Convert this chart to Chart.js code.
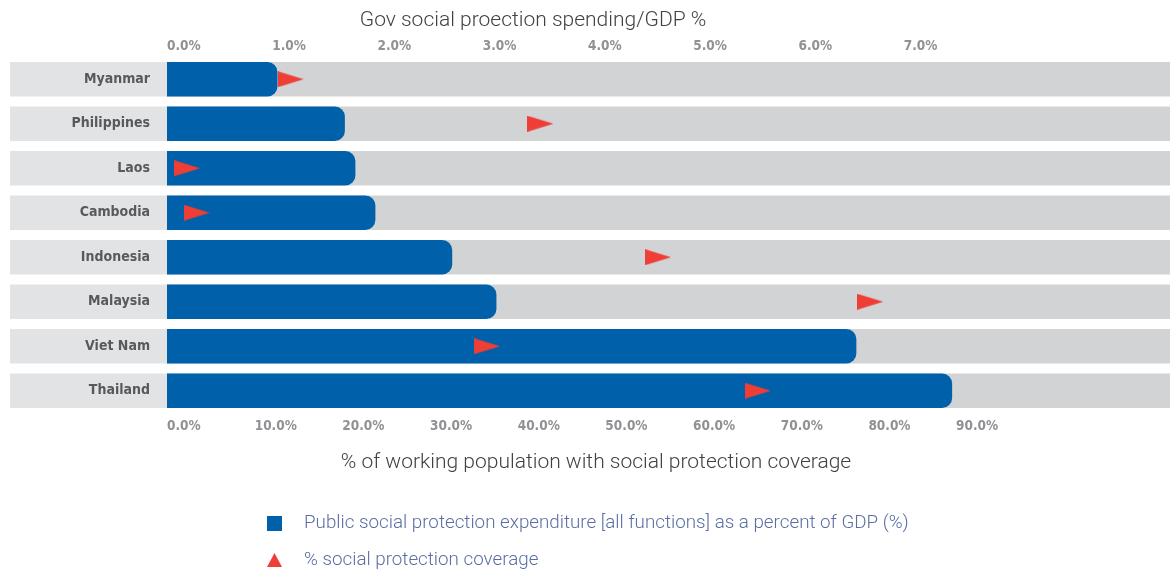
<!DOCTYPE html>
<html>
<head>
<meta charset="utf-8">
<script src="https://cdn.jsdelivr.net/npm/chart.js@4.4.1/dist/chart.umd.min.js"></script>
<style>
  html, body { margin: 0; padding: 0; background: #ffffff; }
</style>
</head>
<body>
<canvas id="protectionChart" width="1170" height="570"></canvas>
<script>
// Countries, top to bottom
const countries = ['Myanmar', 'Philippines', 'Laos', 'Cambodia', 'Indonesia', 'Malaysia', 'Viet Nam', 'Thailand'];

// Public social protection expenditure, % of GDP (blue bars, top axis)
const spendingGdp = [1.05, 1.69, 1.79, 1.98, 2.71, 3.13, 6.55, 7.46];

// % social protection coverage (red triangles, bottom axis)
const coverage = [14.1, 42.6, 2.3, 3.4, 56.0, 80.2, 36.5, 67.4];

// Tick labels shown on each axis
const spendTicks = [0, 1, 2, 3, 4, 5, 6, 7];
const coverageTicks = [0, 10, 20, 30, 40, 50, 60, 70, 80, 90];

// axis ranges (the grey track runs to the right edge)
const spendMax = 9.53;
const coverageMax = 114.4;

const condensed = "'Liberation Sans Narrow', 'DejaVu Sans Condensed', 'Roboto Condensed', Roboto, sans-serif";
const lightFont = "Roboto, 'Open Sans', sans-serif";

// right-pointing red triangle used as the point style
const tri = document.createElement('canvas');
tri.width = 26;
tri.height = 16;
const tctx = tri.getContext('2d');
tctx.fillStyle = '#ef3e36';
tctx.beginPath();
tctx.moveTo(0, 0);
tctx.lineTo(26, 8);
tctx.lineTo(0, 16);
tctx.closePath();
tctx.fill();

// light grey band behind the country labels
const labelBands = {
    id: 'labelBands',
    beforeDraw(chart) {
        const ctx = chart.ctx;
        const meta = chart.getDatasetMeta(2);
        ctx.save();
        ctx.fillStyle = '#e2e3e4';
        meta.data.forEach(bar => {
            ctx.fillRect(10, bar.y - bar.height / 2, chart.chartArea.left - 10, bar.height);
        });
        ctx.restore();
    }
};

// axis titles and the stacked legend at the bottom
const extras = {
    id: 'extras',
    afterDraw(chart) {
        const ctx = chart.ctx;
        ctx.save();
        ctx.fillStyle = '#414042';
        ctx.font = '300 21px ' + lightFont;
        ctx.textAlign = 'center';
        ctx.textBaseline = 'middle';
        ctx.fillText('Gov social proection spending/GDP %', 533, 21);
        ctx.fillText('% of working population with social protection coverage', 596, 463);

        ctx.font = '300 18.8px ' + lightFont;
        ctx.textAlign = 'left';
        ctx.fillStyle = '#5a6ea3';
        const ds = chart.data.datasets;
        // blue square
        ctx.fillText(ds[0].label, 304, 523);
        ctx.fillStyle = ds[0].backgroundColor;
        ctx.fillRect(267, 516, 15, 15);
        // red triangle
        ctx.fillStyle = '#5a6ea3';
        ctx.fillText(ds[1].label, 304, 560);
        ctx.fillStyle = '#ef3e36';
        ctx.beginPath();
        ctx.moveTo(274.5, 553);
        ctx.lineTo(282, 567);
        ctx.lineTo(267, 567);
        ctx.closePath();
        ctx.fill();
        ctx.restore();
    }
};

const ctx = document.getElementById('protectionChart').getContext('2d');

new Chart(ctx, {
    type: 'bar',
    data: {
        labels: countries,
        datasets: [{
            label: 'Public social protection expenditure [all functions] as a percent of GDP (%)',
            data: spendingGdp,
            xAxisID: 'x2',
            backgroundColor: '#0060a9',
            borderRadius: 10,
            borderSkipped: 'start',
            grouped: false,
            barPercentage: 0.775,
            categoryPercentage: 1,
            order: 2
        }, {
            type: 'line',
            label: '% social protection coverage',
            data: coverage,
            indexAxis: 'y',
            xAxisID: 'x',
            showLine: false,
            pointStyle: tri,
            pointRadius: 12,
            backgroundColor: '#ef3e36',
            order: 1
        }, {
            label: 'track',
            data: countries.map(() => spendMax),
            xAxisID: 'x2',
            backgroundColor: '#d1d3d4',
            grouped: false,
            barPercentage: 0.775,
            categoryPercentage: 1,
            order: 3
        }]
    },
    options: {
        indexAxis: 'y',
        responsive: false,
        animation: false,
        layout: {
            autoPadding: false,
            padding: { left: 0, right: 0, top: 0, bottom: 87 }
        },
        plugins: {
            legend: { display: false },
            tooltip: { enabled: false }
        },
        scales: {
            y: {
                grid: { display: false, drawTicks: false },
                border: { display: false },
                ticks: {
                    padding: 17,
                    color: '#58595b',
                    font: { family: condensed, size: 14, weight: 'bold' }
                },
                afterFit: s => { s.width = 167; }
            },
            x: {
                position: 'bottom',
                min: 0,
                max: coverageMax,
                grid: { display: false, drawTicks: false },
                border: { display: false },
                afterBuildTicks: s => { s.ticks = coverageTicks.map(v => ({ value: v })); },
                afterFit: s => { s.height = 70; },
                ticks: {
                    align: 'start',
                    autoSkip: false,
                    maxRotation: 0,
                    padding: 5,
                    color: '#8f9194',
                    font: { family: condensed, size: 13.5, weight: 'bold' },
                    callback: v => v.toFixed(1) + '%'
                }
            },
            x2: {
                position: 'top',
                min: 0,
                max: spendMax,
                grid: { display: false, drawTicks: false },
                border: { display: false },
                afterBuildTicks: s => { s.ticks = spendTicks.map(v => ({ value: v })); },
                afterFit: s => { s.height = 57; },
                ticks: {
                    align: 'start',
                    autoSkip: false,
                    maxRotation: 0,
                    padding: 2,
                    color: '#8f9194',
                    font: { family: condensed, size: 13.5, weight: 'bold' },
                    callback: v => v.toFixed(1) + '%'
                }
            }
        }
    },
    plugins: [labelBands, extras]
});
</script>
</body>
</html>
